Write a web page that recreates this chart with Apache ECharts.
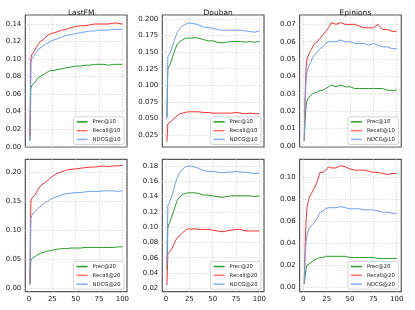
<!DOCTYPE html>
<html>
<head>
<meta charset="utf-8">
<script src="https://cdn.jsdelivr.net/npm/echarts@6/dist/echarts.min.js"></script>
<style>
html,body{margin:0;padding:0;background:#fff;}
#chart{width:415px;height:310px;}
</style>
</head>
<body>
<div id="chart"></div>
<script>
// ---- data ----
const epochs = [1,2,3,4,6,8,10,12,15,18,21,24,27,30,35,40,45,50,55,60,65,70,75,80,85,90,95,100];

const titles = ['LastFM','Douban','Epinions'];
const names10 = ['Prec@10','Recall@10','NDCG@10'];
const names20 = ['Prec@20','Recall@20','NDCG@20'];

const lastfmPrec10   = [0.007,0.066,0.070,0.071,0.073,0.076,0.079,0.081,0.082,0.084,0.086,0.087,0.087,0.088,0.089,0.090,0.091,0.092,0.092,0.093,0.093,0.094,0.094,0.094,0.093,0.094,0.094,0.094];
const lastfmRecall10 = [0.012,0.100,0.105,0.107,0.110,0.114,0.117,0.120,0.122,0.125,0.128,0.129,0.130,0.131,0.133,0.134,0.136,0.137,0.138,0.138,0.139,0.140,0.140,0.140,0.140,0.141,0.141,0.140];
const lastfmNdcg10   = [0.007,0.095,0.100,0.102,0.105,0.108,0.111,0.113,0.115,0.117,0.119,0.121,0.122,0.123,0.125,0.127,0.128,0.129,0.130,0.131,0.132,0.132,0.133,0.133,0.133,0.134,0.134,0.134];

const doubanPrec10   = [0.052,0.125,0.126,0.130,0.138,0.147,0.155,0.162,0.166,0.169,0.171,0.171,0.171,0.172,0.171,0.169,0.167,0.167,0.165,0.164,0.165,0.166,0.166,0.166,0.165,0.166,0.165,0.166];
const doubanRecall10 = [0.015,0.042,0.043,0.044,0.046,0.049,0.052,0.055,0.057,0.058,0.059,0.060,0.060,0.060,0.060,0.059,0.059,0.058,0.058,0.058,0.058,0.058,0.059,0.058,0.057,0.058,0.057,0.057];
const doubanNdcg10   = [0.050,0.143,0.145,0.148,0.155,0.164,0.172,0.180,0.186,0.190,0.192,0.194,0.193,0.193,0.191,0.188,0.187,0.186,0.184,0.183,0.183,0.183,0.183,0.183,0.182,0.181,0.180,0.182];

const epinionsPrec10   = [0.003,0.015,0.023,0.026,0.028,0.029,0.030,0.031,0.031,0.032,0.032,0.033,0.034,0.035,0.034,0.035,0.034,0.034,0.033,0.033,0.033,0.033,0.033,0.033,0.033,0.032,0.032,0.032];
const epinionsRecall10 = [0.003,0.030,0.045,0.050,0.053,0.055,0.057,0.059,0.060,0.062,0.064,0.066,0.068,0.071,0.070,0.071,0.070,0.070,0.070,0.069,0.068,0.068,0.068,0.070,0.067,0.067,0.066,0.066];
const epinionsNdcg10   = [0.003,0.025,0.038,0.043,0.046,0.048,0.051,0.052,0.054,0.056,0.057,0.059,0.060,0.060,0.060,0.061,0.060,0.060,0.059,0.059,0.059,0.058,0.059,0.058,0.057,0.057,0.056,0.056];

const lastfmPrec20   = [0.006,0.048,0.051,0.052,0.054,0.056,0.058,0.060,0.061,0.063,0.064,0.065,0.066,0.067,0.068,0.068,0.069,0.069,0.069,0.070,0.070,0.070,0.070,0.070,0.070,0.070,0.071,0.071];
const lastfmRecall20 = [0.008,0.150,0.155,0.157,0.160,0.165,0.171,0.176,0.180,0.183,0.187,0.192,0.195,0.198,0.201,0.204,0.205,0.206,0.207,0.208,0.209,0.209,0.210,0.211,0.210,0.211,0.211,0.212];
const lastfmNdcg20   = [0.006,0.120,0.125,0.128,0.132,0.135,0.138,0.141,0.145,0.148,0.151,0.154,0.156,0.158,0.161,0.163,0.164,0.165,0.165,0.166,0.167,0.167,0.167,0.168,0.168,0.168,0.167,0.168];

const doubanPrec20   = [0.045,0.100,0.102,0.106,0.113,0.120,0.128,0.135,0.140,0.143,0.144,0.145,0.145,0.145,0.144,0.142,0.142,0.141,0.140,0.139,0.140,0.141,0.141,0.141,0.141,0.141,0.140,0.141];
const doubanRecall20 = [0.024,0.065,0.066,0.068,0.071,0.076,0.082,0.086,0.089,0.093,0.096,0.098,0.097,0.098,0.097,0.097,0.097,0.096,0.095,0.094,0.095,0.096,0.097,0.097,0.095,0.095,0.095,0.095];
const doubanNdcg20   = [0.050,0.128,0.131,0.133,0.140,0.148,0.157,0.165,0.172,0.176,0.179,0.180,0.180,0.179,0.177,0.174,0.173,0.173,0.172,0.171,0.172,0.172,0.173,0.172,0.172,0.171,0.170,0.171];

const epinionsPrec20   = [0.003,0.010,0.017,0.020,0.021,0.022,0.024,0.024,0.026,0.027,0.027,0.028,0.028,0.028,0.028,0.028,0.028,0.027,0.027,0.027,0.027,0.027,0.027,0.026,0.026,0.026,0.026,0.026];
const epinionsRecall20 = [0.003,0.040,0.060,0.072,0.080,0.084,0.087,0.090,0.096,0.104,0.104,0.106,0.109,0.108,0.108,0.110,0.109,0.107,0.106,0.106,0.106,0.105,0.104,0.104,0.103,0.102,0.103,0.103];
const epinionsNdcg20   = [0.003,0.028,0.040,0.048,0.053,0.055,0.057,0.059,0.063,0.068,0.069,0.071,0.072,0.072,0.072,0.073,0.072,0.071,0.071,0.071,0.070,0.070,0.070,0.069,0.068,0.068,0.067,0.067];

const xTicks = [0,25,50,75,100];
const yTicksLastfm10   = [0.00,0.02,0.04,0.06,0.08,0.10,0.12,0.14];
const yTicksDouban10   = [0.025,0.050,0.075,0.100,0.125,0.150,0.175,0.200];
const yTicksEpinions10 = [0.00,0.01,0.02,0.03,0.04,0.05,0.06,0.07];
const yTicksLastfm20   = [0.00,0.05,0.10,0.15,0.20];
const yTicksDouban20   = [0.02,0.04,0.06,0.08,0.10,0.12,0.14,0.16,0.18];
const yTicksEpinions20 = [0.00,0.02,0.04,0.06,0.08,0.10];

// ---- layout / style ----
const FONT = 'DejaVu Sans';
const colors = ['#2a9a2a', '#ff3030', '#6e9ef0'];
const legendColors = ['#33a033', '#ff7575', '#8cb0f5'];
const colLeft = [25.3, 162.3, 299.6];
const gridW = 101.7;
const rowTop = [15, 159.3];
const gridH = [132, 132.4];

const panels = [
  {row:0,col:0,names:names10,series:[lastfmPrec10,lastfmRecall10,lastfmNdcg10],range:[-0.0003,0.1503],ticks:yTicksLastfm10,dec:2},
  {row:0,col:1,names:names10,series:[doubanPrec10,doubanRecall10,doubanNdcg10],range:[0.0069,0.206],ticks:yTicksDouban10,dec:3},
  {row:0,col:2,names:names10,series:[epinionsPrec10,epinionsRecall10,epinionsNdcg10],range:[-0.0007,0.0754],ticks:yTicksEpinions10,dec:2},
  {row:1,col:0,names:names20,series:[lastfmPrec20,lastfmRecall20,lastfmNdcg20],range:[-0.0065,0.2225],ticks:yTicksLastfm20,dec:2},
  {row:1,col:1,names:names20,series:[doubanPrec20,doubanRecall20,doubanNdcg20],range:[0.0155,0.1888],ticks:yTicksDouban20,dec:2},
  {row:1,col:2,names:names20,series:[epinionsPrec20,epinionsRecall20,epinionsNdcg20],range:[-0.004,0.1158],ticks:yTicksEpinions20,dec:2}
];

const grid = [], xAxis = [], yAxis = [], series = [], legend = [], title = [];
panels.forEach((p, i) => {
  const left = colLeft[p.col], top = rowTop[p.row], h = gridH[p.row];
  grid.push({left: left, top: top, width: gridW, height: h, show: true,
    borderColor: '#555', borderWidth: 1.2, backgroundColor: 'transparent', containLabel: false});
  xAxis.push({type: 'value', gridIndex: i, min: -3.95, max: 104.95,
    axisLine: {show: false}, axisTick: {show: false, customValues: xTicks},
    axisLabel: {show: p.row === 1, customValues: xTicks, fontFamily: FONT, fontSize: 7, color: '#222', margin: 4},
    splitLine: {show: true, lineStyle: {color: '#cfcfcf', type: [1.2, 1.6], width: 0.8}}});
  yAxis.push({type: 'value', gridIndex: i, min: p.range[0], max: p.range[1],
    axisLine: {show: false}, axisTick: {show: false, customValues: p.ticks},
    axisLabel: {customValues: p.ticks, fontFamily: FONT, fontSize: 7, color: '#222', margin: 4,
      formatter: v => v.toFixed(p.dec)},
    splitLine: {show: true, lineStyle: {color: '#cfcfcf', type: [1.2, 1.6], width: 0.8}}});
  p.series.forEach((vals, k) => {
    series.push({type: 'line', name: p.names[k], xAxisIndex: i, yAxisIndex: i,
      data: epochs.map((e, j) => [e, vals[j]]), showSymbol: false, symbol: 'none',
      color: colors[k], lineStyle: {width: 1, color: colors[k]}, z: 3});
  });
  legend.push({data: p.names.map((n, k) => ({name: n, itemStyle: {color: legendColors[k]}})),
    orient: 'vertical',
    right: 415 - (left + gridW - 3), bottom: 310 - (top + h - 2.5),
    icon: 'rect', itemWidth: 11, itemHeight: 1.6, itemGap: 2.3,
    padding: [1.8, 3.5, 1.8, 3], backgroundColor: 'rgba(255,255,255,0.85)',
    borderColor: '#cccccc', borderWidth: 0.8, borderRadius: 2,
    textStyle: {fontFamily: FONT, fontSize: 5.3, lineHeight: 6.5, color: '#222'}});
  if (p.row === 0) {
    title.push({text: titles[p.col], left: left + gridW / 2, top: 4, textAlign: 'center',
      textStyle: {fontFamily: FONT, fontSize: 7.5, fontWeight: 'normal', color: '#111'}});
  }
});

const chart = echarts.init(document.getElementById('chart'), null, {renderer: 'canvas'});
chart.setOption({animation: false, backgroundColor: '#fff', title, grid, xAxis, yAxis, series, legend});
</script>
</body>
</html>
